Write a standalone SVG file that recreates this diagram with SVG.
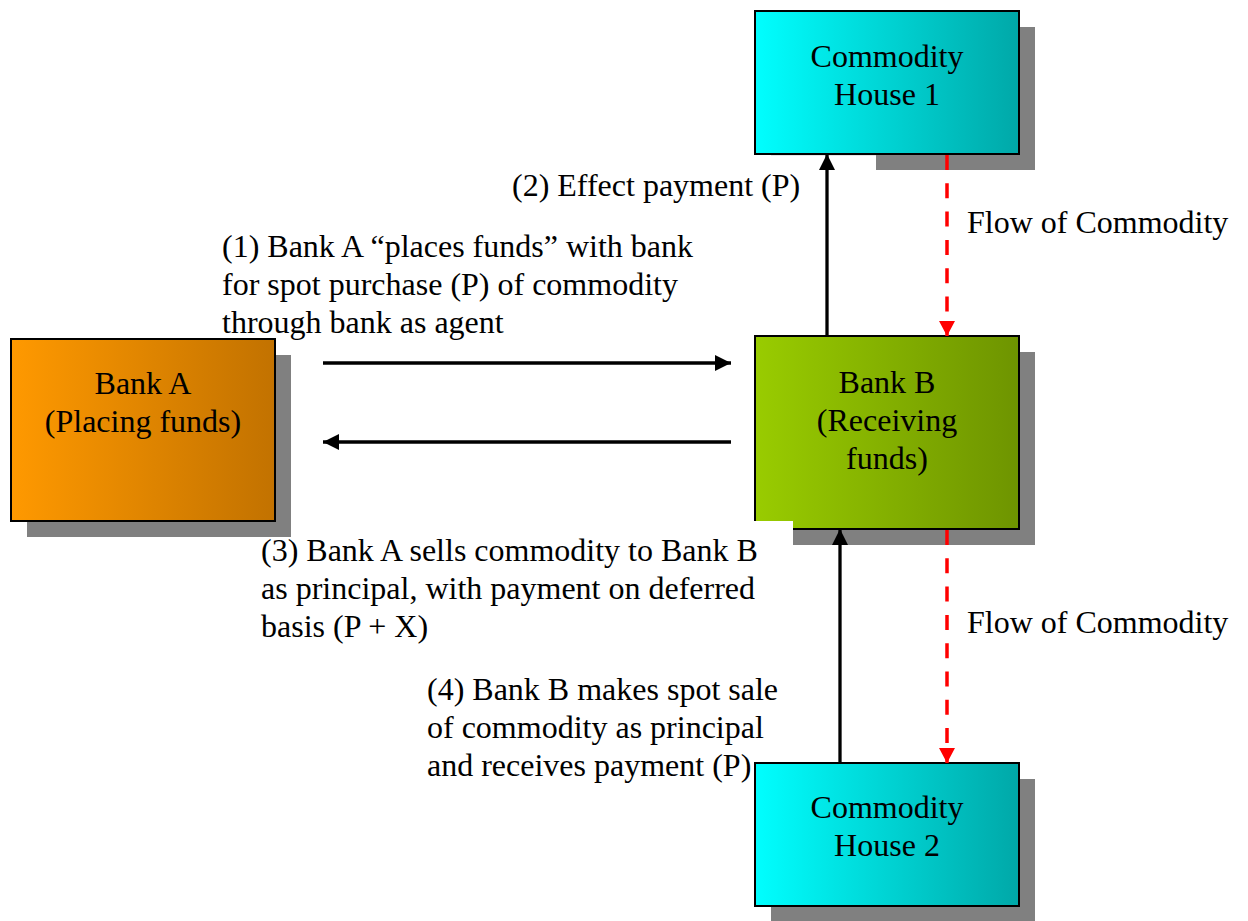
<svg xmlns="http://www.w3.org/2000/svg" width="1248" height="921" viewBox="0 0 1248 921">
<defs>
<linearGradient id="gCyan" x1="0" y1="0" x2="1" y2="0">
<stop offset="0" stop-color="#00FFFF"/>
<stop offset="1" stop-color="#00A8A8"/>
</linearGradient>
<linearGradient id="gOrange" x1="0" y1="0" x2="1" y2="0">
<stop offset="0" stop-color="#FF9900"/>
<stop offset="1" stop-color="#C27200"/>
</linearGradient>
<linearGradient id="gGreen" x1="0" y1="0" x2="1" y2="0">
<stop offset="0" stop-color="#99CC00"/>
<stop offset="1" stop-color="#6E9400"/>
</linearGradient>
<marker id="ah" markerUnits="userSpaceOnUse" markerWidth="16" markerHeight="16" refX="16" refY="8" orient="auto">
<path d="M0,0 L16,8 L0,16 z" fill="#000"/>
</marker>
<marker id="ahr" markerUnits="userSpaceOnUse" markerWidth="15" markerHeight="16" refX="15" refY="8" orient="auto">
<path d="M0,0 L15,8 L0,16 z" fill="#FF0000"/>
</marker>
</defs>
<style>
.shadow{fill:#808080}
.box{stroke:#000;stroke-width:2}
.t{font-family:'Liberation Serif','Times New Roman',serif;font-size:32px;fill:#000}
.c{text-anchor:middle}
.blk{stroke:#000;stroke-width:3.3;fill:none;marker-end:url(#ah)}
.red{stroke:#FF0000;stroke-width:3.5;fill:none;stroke-dasharray:15 13.3;marker-end:url(#ahr)}
.cover{fill:#FFFFFF}
</style>

<g id="commodity-house-1">
<rect class="shadow" x="771" y="27" width="264" height="143"/>
<rect class="box" x="755" y="11" width="264" height="143" fill="url(#gCyan)"/>
<text class="t c" x="887" y="67">Commodity</text>
<text class="t c" x="887" y="105">House 1</text>
</g>

<g id="bank-a">
<rect class="shadow" x="27" y="355" width="264" height="182"/>
<rect class="box" x="11" y="339" width="264" height="182" fill="url(#gOrange)"/>
<text class="t c" x="143" y="394">Bank A</text>
<text class="t c" x="143" y="432">(Placing funds)</text>
</g>

<g id="bank-b">
<rect class="shadow" x="771" y="352" width="264" height="193"/>
<rect class="box" x="755" y="336" width="264" height="193" fill="url(#gGreen)"/>
<text class="t c" x="887" y="393">Bank B</text>
<text class="t c" x="887" y="431">(Receiving</text>
<text class="t c" x="887" y="469">funds)</text>
</g>

<g id="commodity-house-2">
<rect class="shadow" x="771" y="779" width="264" height="143"/>
<rect class="box" x="755" y="763" width="264" height="143" fill="url(#gCyan)"/>
<text class="t c" x="887" y="818">Commodity</text>
<text class="t c" x="887" y="856">House 2</text>
</g>

<g id="label-2">
<rect class="cover" x="770" y="155.2" width="106" height="17"/>
<text class="t" x="512" y="196">(2) Effect payment (P)</text>
</g>

<g id="label-3">
<rect class="cover" x="740" y="521" width="53" height="26"/>
<text class="t" x="261" y="561">(3) Bank A sells commodity to Bank B</text>
<text class="t" x="261" y="599">as principal, with payment on deferred</text>
<text class="t" x="261" y="637">basis (P + X)</text>
</g>

<g id="label-1">
<text class="t" x="222" y="257">(1) Bank A “places funds” with bank</text>
<text class="t" x="222" y="295">for spot purchase (P) of commodity</text>
<text class="t" x="222" y="333">through bank as agent</text>
</g>

<g id="label-4">
<text class="t" x="427" y="700">(4) Bank B makes spot sale</text>
<text class="t" x="427" y="738">of commodity as principal</text>
<text class="t" x="427" y="776">and receives payment (P)</text>
</g>

<g id="flow-labels">
<text class="t" x="967" y="233">Flow of Commodity</text>
<text class="t" x="967" y="633">Flow of Commodity</text>
</g>

<g id="connectors">
<line class="blk" x1="323" y1="363" x2="731" y2="363"/>
<line class="blk" x1="731" y1="442" x2="323" y2="442"/>
<line class="blk" x1="827" y1="336" x2="827" y2="154"/>
<line class="blk" x1="840" y1="763" x2="840" y2="529"/>
<line class="red" x1="947" y1="155" x2="947" y2="336"/>
<line class="red" x1="947" y1="530" x2="947" y2="763"/>
</g>
</svg>
